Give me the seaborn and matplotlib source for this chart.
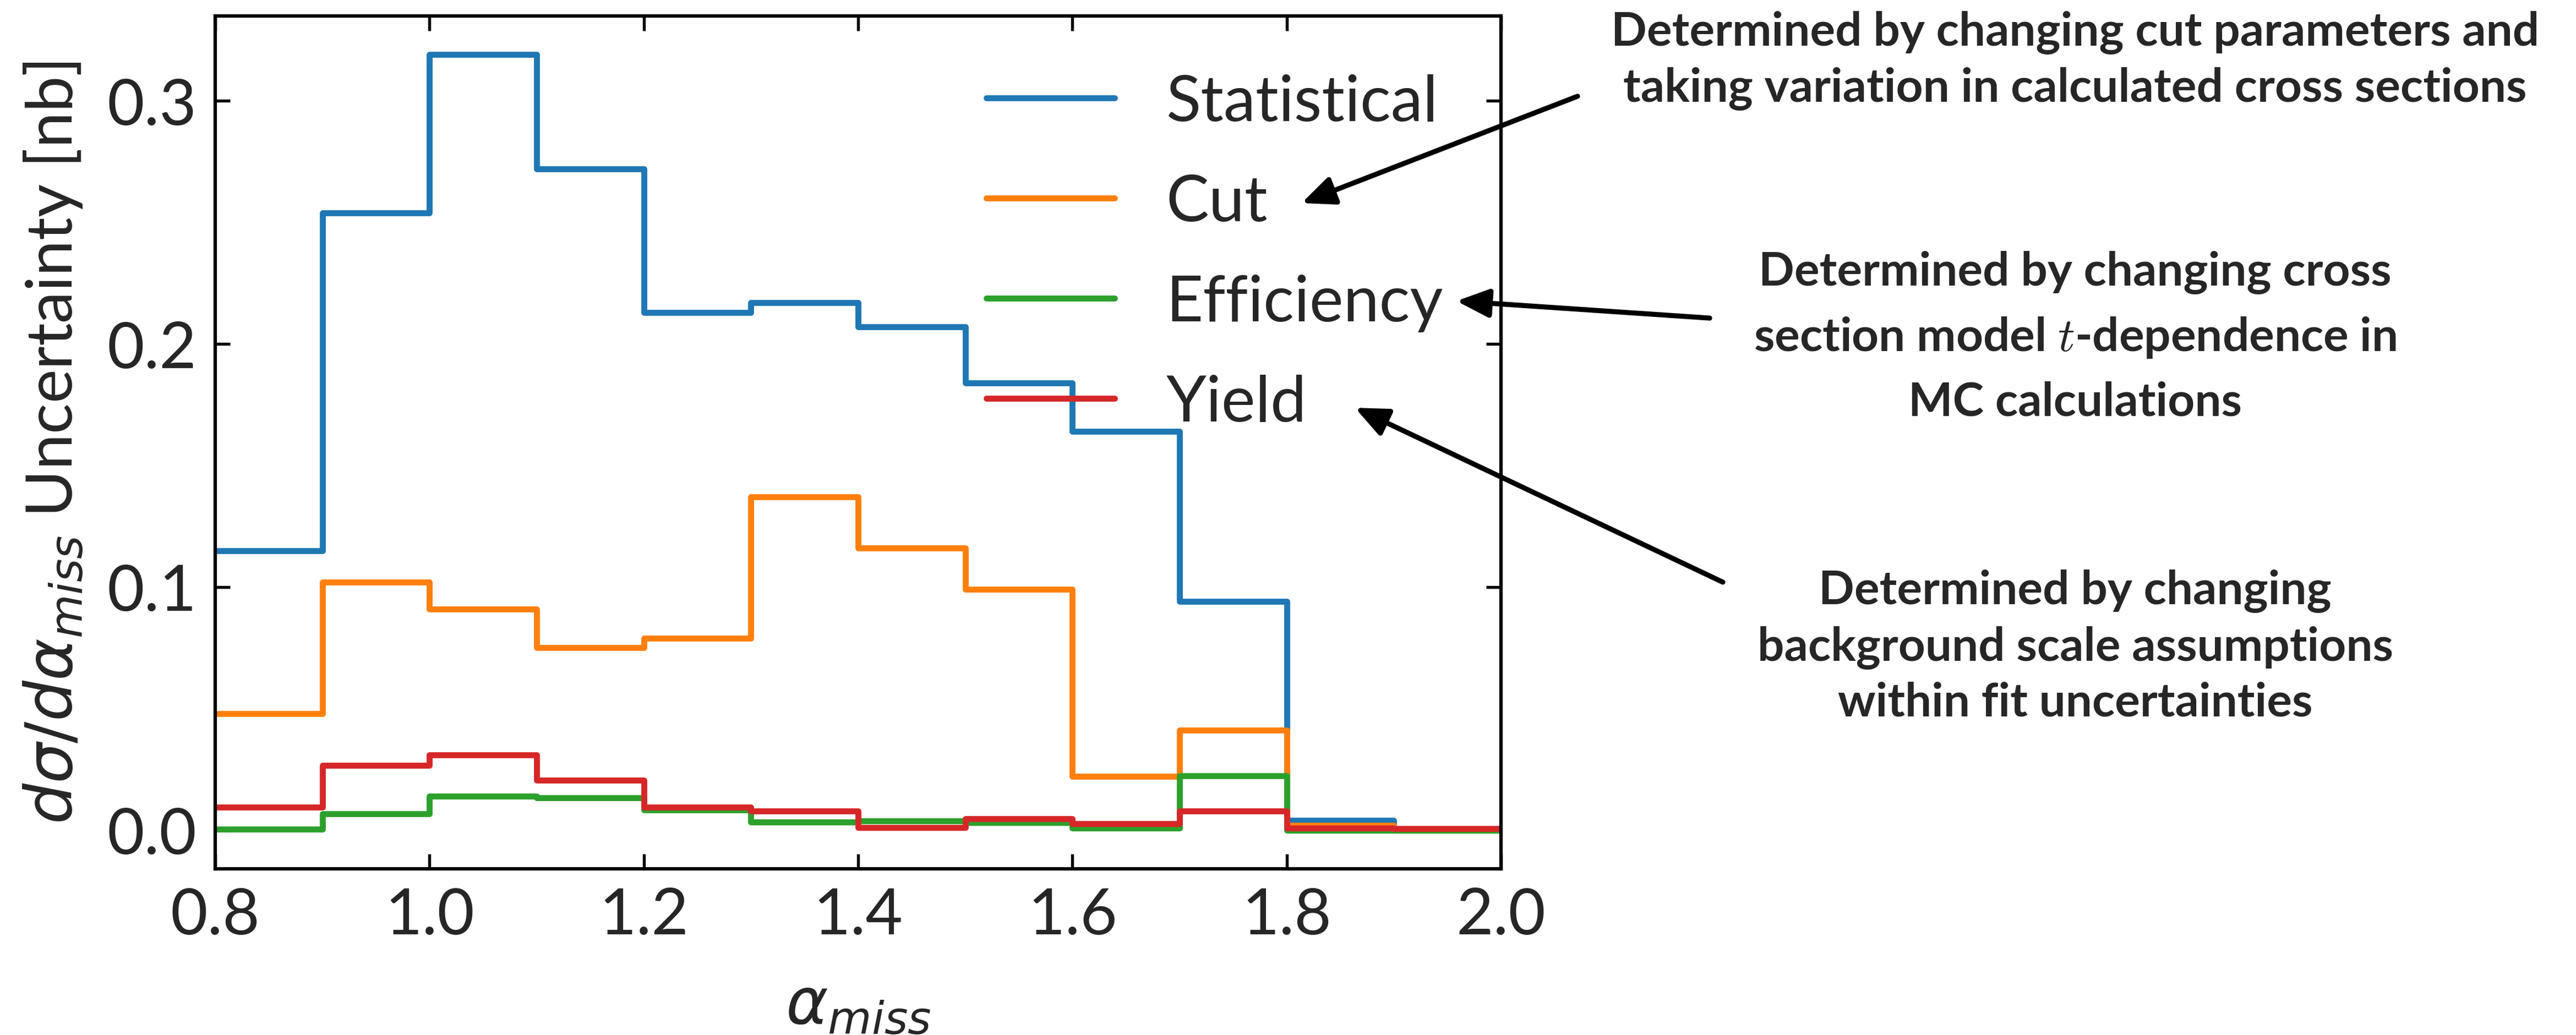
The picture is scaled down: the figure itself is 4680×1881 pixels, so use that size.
import numpy as np
import pandas as pd
import matplotlib
matplotlib.use("Agg")
import matplotlib.pyplot as plt
import seaborn as sns

# Binning in alpha_miss
bin_edges = [0.8, 0.9, 1.0, 1.1, 1.2, 1.3, 1.4, 1.5, 1.6, 1.7, 1.8, 1.9, 2.0]

# Uncertainty per bin [nb]
statistical = [0.115, 0.254, 0.319, 0.272, 0.213, 0.217, 0.207, 0.184, 0.164, 0.094, 0.004, 0.0]
cut = [0.048, 0.102, 0.091, 0.075, 0.079, 0.137, 0.116, 0.099, 0.022, 0.041, 0.002, 0.0]
efficiency = [0.0004, 0.0066, 0.014, 0.0133, 0.0082, 0.0032, 0.0038, 0.003, 0.0009, 0.0223, 0.0, 0.0]
yield_unc = [0.0094, 0.0265, 0.031, 0.0205, 0.0094, 0.0078, 0.0011, 0.0046, 0.0027, 0.0078, 0.0008, 0.0005]

series_labels = ["Statistical", "Cut", "Efficiency", "Yield"]
series_colors = ["#1f77b4", "#ff7f0e", "#2ca02c", "#d62728"]

x_ticks = [0.8, 1.0, 1.2, 1.4, 1.6, 1.8, 2.0]
y_ticks = [0.0, 0.1, 0.2, 0.3]

notes = [
    "Determined by changing cut parameters and\ntaking variation in calculated cross sections",
    "Determined by changing cross\nsection model $t$-dependence in\nMC calculations",
    "Determined by changing\nbackground scale assumptions\nwithin fit uncertainties",
]

sns.set_theme(style="ticks")
plt.rcParams["font.family"] = ["Lato", "DejaVu Sans"]
plt.rcParams["mathtext.fontset"] = "dejavusans"

FS = 28

fig = plt.figure(figsize=(15.6, 6.2733), dpi=300)
ax = fig.add_axes([0.08355, 0.16047, 0.58269 - 0.08355, 0.98406 - 0.16047])

centers = [0.5 * (a + b) for a, b in zip(bin_edges[:-1], bin_edges[1:])]
for vals, lab, col in zip([statistical, cut, efficiency, yield_unc], series_labels, series_colors):
    df = pd.DataFrame({"alpha": centers, "unc": vals})
    sns.histplot(data=df, x="alpha", weights="unc", bins=list(bin_edges), element="step",
                 fill=False, color=col, linewidth=2.6, label=lab, ax=ax)

ymax = max(max(statistical), max(cut), max(efficiency), max(yield_unc))
ax.set_xlim(bin_edges[0], bin_edges[-1])
ax.set_ylim(-0.05 * ymax, 1.05 * ymax)
ax.set_xticks(x_ticks)
ax.set_xticklabels([f"{t:.1f}" for t in x_ticks])
ax.set_yticks(y_ticks)
ax.set_yticklabels([f"{t:.1f}" for t in y_ticks])
ax.tick_params(axis="both", which="major", direction="in", top=True, right=True,
               length=6.5, width=1.3, labelsize=FS, pad=8, color="black")
for s in ax.spines.values():
    s.set_linewidth(1.5)
    s.set_color("black")

ax.set_xlabel(r"$\alpha_{miss}$", fontsize=FS, labelpad=14)
ax.set_ylabel(r"$d\sigma/d\alpha_{miss}$ Uncertainty [nb]", fontsize=FS, labelpad=10)

handles = [ln for ln in ax.lines if ln.get_label() in series_labels]
ax.legend(handles=handles, labels=[h.get_label() for h in handles], loc="upper right",
          frameon=False, fontsize=FS, handlelength=2.0, handletextpad=0.8,
          labelspacing=0.66)

# Explanatory notes (anchored at the baseline of their last line) with arrows
note_pos = [(0.8056, 0.9022), (0.8056, 0.5988), (0.8056, 0.3082)]
note_spacing = [1.37, 1.6, 1.37]
arrow_tails = [(0.6124, 0.9065), (0.6637, 0.6923), (0.6688, 0.4373)]
arrow_tips = [(0.5053, 0.8034), (0.5654, 0.7088), (0.5260, 0.6057)]
for txt, (tx, ty), ls in zip(notes, note_pos, note_spacing):
    fig.text(tx, ty, txt, ha="center", va="baseline", multialignment="center",
             fontsize=20.5, fontweight="bold", linespacing=ls, math_fontfamily="cm")
for tail, tip in zip(arrow_tails, arrow_tips):
    ax.annotate("", xy=tip, xycoords="figure fraction", xytext=tail,
                textcoords="figure fraction", annotation_clip=False,
                arrowprops=dict(arrowstyle="-|>,head_length=0.8,head_width=0.35",
                                mutation_scale=15, color="black", lw=2.2,
                                shrinkA=0, shrinkB=0))

fig.savefig("out.png", dpi=300, facecolor="white")
